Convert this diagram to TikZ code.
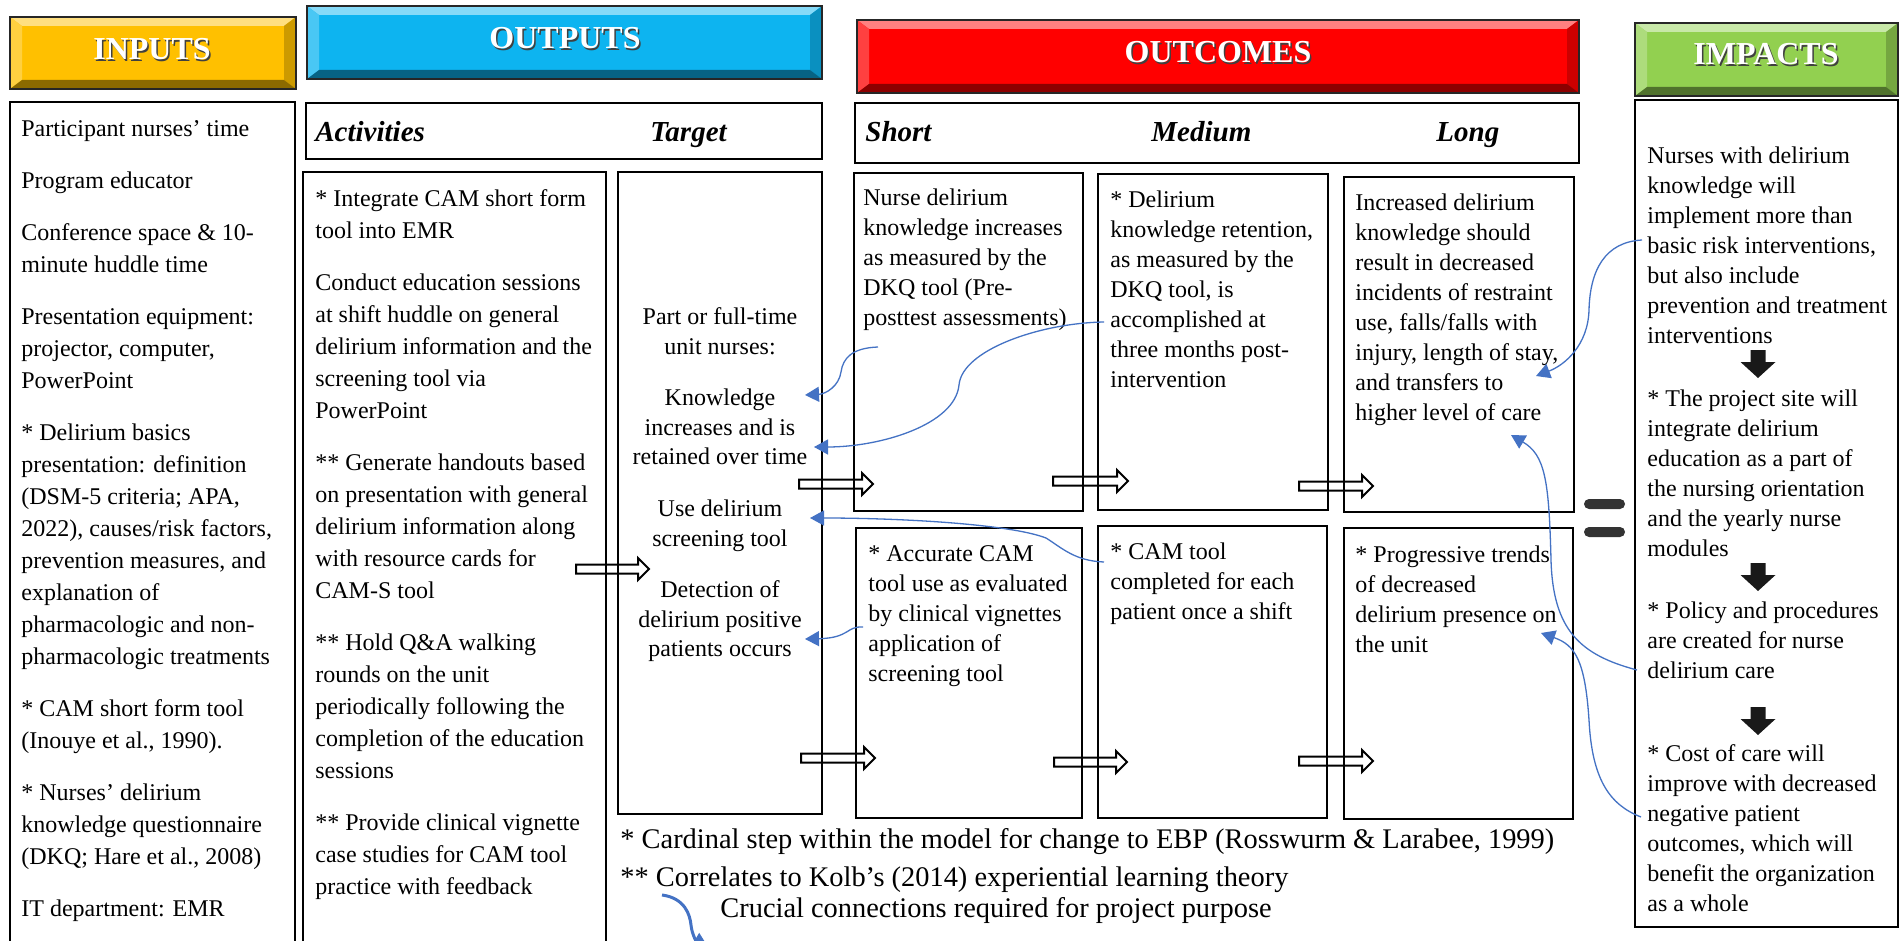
\documentclass[tikz,border=0pt]{standalone}
\usepackage{fontspec}
\setmainfont{Liberation Serif}
\usetikzlibrary{arrows.meta}
\definecolor{cinput}{HTML}{FFC000}
\definecolor{coutput}{HTML}{0DB4F0}
\definecolor{coutcome}{HTML}{FF0000}
\definecolor{cimpact}{HTML}{92D050}
\definecolor{conn}{HTML}{4472C4}
\newcommand\fst{\rule{0pt}{12pt}}
% bevelled header box: x0,y0,x1,y1,colour
\newcommand\bevelbox[5]{%
  \fill[#5] (#1,#2) rectangle (#3,#4);
  \fill[#5!50!white] (#1,#2) -- (#3,#2) -- (#3-12,#2+9) -- (#1+12,#2+9) -- cycle;
  \fill[#5!75!white] (#1,#2) -- (#1+12,#2+9) -- (#1+12,#4-9) -- (#1,#4) -- cycle;
  \fill[#5!80!black] (#3,#2) -- (#3,#4) -- (#3-12,#4-9) -- (#3-12,#2+9) -- cycle;
  \fill[#5!55!black] (#1,#4) -- (#3,#4) -- (#3-12,#4-9) -- (#1+12,#4-9) -- cycle;
  \draw[black!85,line width=1.2pt] (#1,#2) rectangle (#3,#4);
}
% hollow block arrow: tail x, tip x, centre y
\newcommand\harrow[3]{%
  \draw[harr] (#1,#3-4.5) -- (#2-11,#3-4.5) -- (#2-11,#3-11) -- (#2,#3)
    -- (#2-11,#3+11) -- (#2-11,#3+4.5) -- (#1,#3+4.5) -- cycle;
}
% black down arrow: centre x, top y
\newcommand\darrow[2]{%
  \fill[black!90] (#1-7.5,#2) -- (#1+7.5,#2) -- (#1+7.5,#2+12) -- (#1+17.5,#2+12)
    -- (#1,#2+28) -- (#1-17.5,#2+12) -- (#1-7.5,#2+12) -- cycle;
}
\begin{document}
\begin{tikzpicture}[x=0.5pt,y=-0.5pt,
  box/.style={draw=black,line width=1.3pt},
  harr/.style={draw=black,line width=1pt,fill=white},
  hdr/.style={anchor=base,inner sep=0pt,text=white,font=\fontsize{16pt}{19pt}\selectfont\bfseries},
  hdrsh/.style={anchor=base,inner sep=0pt,text=black!75,font=\fontsize{16pt}{19pt}\selectfont\bfseries},
  sub/.style={anchor=base west,inner sep=0pt,font=\fontsize{14.5pt}{17pt}\selectfont\bfseries\itshape},
  bodyA/.style={anchor=north west,inner sep=0pt,align=left,font=\fontsize{12pt}{16pt}\selectfont},
  bodyB/.style={anchor=north west,inner sep=0pt,align=left,font=\fontsize{12pt}{15pt}\selectfont},
  bodyC/.style={anchor=north,inner sep=0pt,align=center,font=\fontsize{12pt}{14.8pt}\selectfont},
  legend/.style={anchor=base west,inner sep=0pt,font=\fontsize{14.2pt}{17pt}\selectfont},
  conn/.style={draw=conn,line width=0.65pt,-{Triangle[length=7pt,width=7.5pt]}},
]
\useasboundingbox (0,0) rectangle (1900,941);
\clip (0,0) rectangle (1900,941);
\fill[white] (0,0) rectangle (1900,941);

% ---------- headers ----------
\bevelbox{10}{17}{296}{89}{cinput}
\bevelbox{307}{6}{822}{79}{coutput}
\bevelbox{857}{20}{1579}{93}{coutcome}
\bevelbox{1635}{23}{1898}{96}{cimpact}
\node[hdrsh] (hinS) at (153.5,61.5) {INPUTS};
\node[hdr] (hin) at (152,60) {INPUTS};
\node[hdrsh] (houtS) at (566.5,50.5) {OUTPUTS};
\node[hdr] (hout) at (565,49) {OUTPUTS};
\node[hdrsh] (hocS) at (1219.5,64.5) {OUTCOMES};
\node[hdr] (hoc) at (1218,63) {OUTCOMES};
\node[hdrsh] (himS) at (1767.5,66.5) {IMPACTS};
\node[hdr] (him) at (1766,65) {IMPACTS};

% ---------- hollow arrows (under box borders) ----------
\harrow{576}{649}{569}
\harrow{799}{873}{484}
\harrow{1053}{1128}{481}
\harrow{1299}{1373}{486}
\harrow{801}{875}{758}
\harrow{1054}{1127}{762}
\harrow{1299}{1373}{761}

% ---------- boxes ----------
\draw[box] (306,103) rectangle (822,159);
\draw[box] (855,103) rectangle (1579,163);
\draw[box] (10,102) rectangle (295,990);
\draw[box] (303,172) rectangle (606,990);
\draw[box] (618,172) rectangle (822,814);
\draw[box] (854,173) rectangle (1083,511);
\draw[box] (1098,174) rectangle (1328,510);
\draw[box] (1344,177) rectangle (1574,512);
\draw[box] (856,528) rectangle (1082,818);
\draw[box] (1098,526) rectangle (1327,818);
\draw[box] (1344,528) rectangle (1573,819);
\draw[box] (1635,100) rectangle (1898,927);

% ---------- sub headers ----------
\node[sub] (sact) at (315,142) {Activities};
\node[sub] (starg) at (650,142) {Target};
\node[sub] (sshort) at (865,142) {Short};
\node[sub] (smed) at (1151,142) {Medium};
\node[sub] (slong) at (1436,142) {Long};

% ---------- inputs ----------
\node[bodyA] (inputs) at (21,112) {\fst Participant nurses’ time\\[10pt]
Program educator\\[10pt]
Conference space \& 10-\\ minute huddle time\\[10pt]
Presentation equipment:\\ projector, computer,\\ PowerPoint\\[10pt]
{*} Delirium basics\\ presentation: definition\\ (DSM-5 criteria; APA,\\ 2022), causes/risk factors,\\ prevention measures, and\\ explanation of\\ pharmacologic and non-\\ pharmacologic treatments\\[10pt]
{*} CAM short form tool\\ (Inouye et al., 1990).\\[10pt]
{*} Nurses’ delirium\\ knowledge questionnaire\\ (DKQ; Hare et al., 2008)\\[10pt]
IT department: EMR};

% ---------- activities ----------
\node[bodyA] (acts) at (315,182) {\fst{*} Integrate CAM short form\\ tool into EMR\\[10pt]
Conduct education sessions\\ at shift huddle on general\\ delirium information and the\\ screening tool via\\ PowerPoint\\[10pt]
{**} Generate handouts based\\ on presentation with general\\ delirium information along\\ with resource cards for\\ CAM-S tool\\[10pt]
{**} Hold Q\&A walking\\ rounds on the unit\\ periodically following the\\ completion of the education\\ sessions\\[10pt]
{**} Provide clinical vignette\\ case studies for CAM tool\\ practice with feedback};

% ---------- target ----------
\node[bodyC] (target) at (720,300) {\fst Part or full-time\\ unit nurses:\\[11pt]
Knowledge\\ increases and is\\ retained over time\\[11pt]
Use delirium\\ screening tool\\[11pt]
Detection of\\ delirium positive\\ patients occurs};

% ---------- outcomes ----------
\node[bodyB] (shortt) at (863,181) {\fst Nurse delirium\\ knowledge increases\\ as measured by the\\ DKQ tool (Pre-\\ posttest assessments)};
\node[bodyB] (medt) at (1110,183) {\fst{*} Delirium\\ knowledge retention,\\ as measured by the\\ DKQ tool, is\\ accomplished at\\ three months post-\\ intervention};
\node[bodyB] (longt) at (1355,186) {\fst Increased delirium\\ knowledge should\\ result in decreased\\ incidents of restraint\\ use, falls/falls with\\ injury, length of stay,\\ and transfers to\\ higher level of care};
\node[bodyB] (shortb) at (868,537) {\fst{*} Accurate CAM\\ tool use as evaluated\\ by clinical vignettes\\ application of\\ screening tool};
\node[bodyB] (medb) at (1110,535) {\fst{*} CAM tool\\ completed for each\\ patient once a shift};
\node[bodyB] (longb) at (1355,538) {\fst{*} Progressive trends\\ of decreased\\ delirium presence on\\ the unit};

% ---------- impacts ----------
\node[bodyB] (imp1) at (1647,139) {\fst Nurses with delirium\\ knowledge will\\ implement more than\\ basic risk interventions,\\ but also include\\ prevention and treatment\\ interventions};
\node[bodyB] (imp2) at (1647,382) {\fst{*} The project site will\\ integrate delirium\\ education as a part of\\ the nursing orientation\\ and the yearly nurse\\ modules};
\node[bodyB] (imp3) at (1647,594) {\fst{*} Policy and procedures\\ are created for nurse\\ delirium care};
\node[bodyB] (imp4) at (1647,737) {\fst{*} Cost of care will\\ improve with decreased\\ negative patient\\ outcomes, which will\\ benefit the organization\\ as a whole};
\darrow{1758}{350}
\darrow{1758}{563}
\darrow{1758}{707}

% ---------- equals sign ----------
\fill[black!80,rounded corners=2.5] (1584,499) rectangle (1625,509);
\fill[black!80,rounded corners=2.5] (1584,527) rectangle (1625,537);

% ---------- blue connectors ----------
\coordinate (c1s) at (878,347);  \coordinate (c1e) at (805,395);
\coordinate (c2s) at (1104,322); \coordinate (c2e) at (814,447);
\coordinate (c3s) at (1104,562); \coordinate (c3e) at (810,518);
\coordinate (c4s) at (863,627);  \coordinate (c4e) at (805,639);
\coordinate (c5s) at (1642,240); \coordinate (c5e) at (1536,376);
\coordinate (c6s) at (1637,670); \coordinate (c6e) at (1511,435);
\coordinate (c7s) at (1641,817); \coordinate (c7e) at (1541,633);
\draw[conn] (c1s) .. controls (852,348) and (843,358) .. (841,372) .. controls (839,386) and (826,394) .. (c1e);
\draw[conn] (c2s) .. controls (1040,323) and (962,350) .. (959,385) .. controls (955,425) and (880,447) .. (c2e);
\draw[conn] (c3s) .. controls (1075,561) and (1062,548) .. (1046,538) .. controls (1010,524) and (900,518) .. (c3e);
\draw[conn] (c4s) .. controls (846,626) and (850,638) .. (c4e);
\draw[conn] (c5s) .. controls (1605,242) and (1590,270) .. (1589,310) .. controls (1588,345) and (1565,365) .. (c5e);
\draw[conn] (c6s) .. controls (1580,655) and (1553,630) .. (1551,560) .. controls (1549,480) and (1545,455) .. (c6e);
\draw[conn] (c7s) .. controls (1610,805) and (1592,780) .. (1589,720) .. controls (1585,660) and (1575,645) .. (c7e);

% ---------- legend ----------
\node[legend] (lg1) at (620,848) {* Cardinal step within the model for change to EBP (Rosswurm \& Larabee, 1999)};
\node[legend] (lg2) at (620,886) {** Correlates to Kolb’s (2014) experiential learning theory};
\node[legend] (lg3) at (720,917) {Crucial connections required for project purpose};
\coordinate (lgs) at (662,895);
\coordinate (lge) at (710,950);
\draw[draw=conn,line width=1.5pt,-{Triangle[length=9pt,width=9pt]}] (lgs) .. controls (685,898) and (690,915) .. (691,925) .. controls (692,936) and (698,943) .. (lge);
\end{tikzpicture}
\end{document}
